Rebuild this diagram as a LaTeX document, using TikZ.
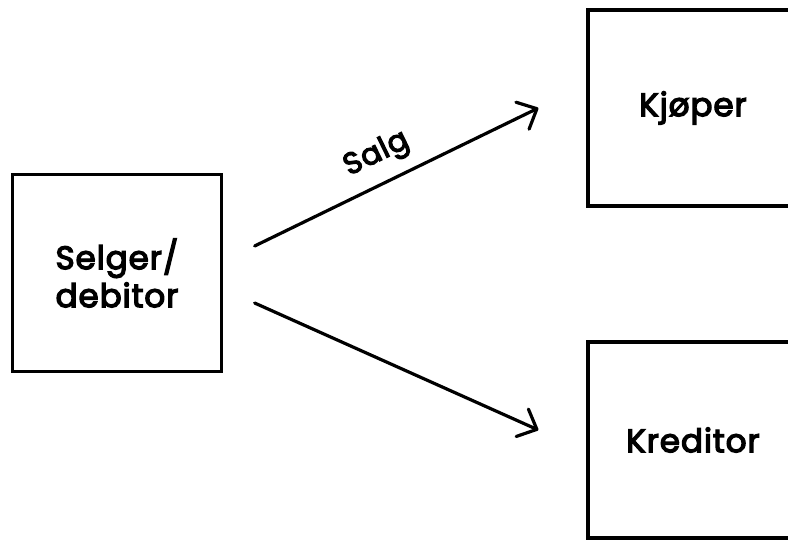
\documentclass[tikz,border=0pt]{standalone}
\usepackage{fontspec}
\setmainfont{Poppins}[FakeBold=4,LetterSpace=3]
\usetikzlibrary{arrows.meta}
\begin{document}
\begin{tikzpicture}[x=1pt,y=-1pt,
  box/.style={draw=black,line width=3.3pt,rectangle,inner sep=0pt,
    font=\fontsize{32.5}{38}\selectfont,align=center},
  arr/.style={line width=3.2pt,line cap=round,
    -{Straight Barb[length=16pt,width=30pt,line width=3.2pt,round]}},
  lbl/.style={font=\fontsize{30}{30}\selectfont,inner sep=0pt}]
  \useasboundingbox (0,0) rectangle (788,539);
  \clip (0,0) rectangle (788,539);
  % the seller on the left, buyer and creditor on the right
  \node[box,minimum width=209pt,minimum height=197pt] (sel) at (117,273) {Selger/\\debitor};
  \node[box,minimum width=210pt,minimum height=196pt] (kjo) at (693,108) {Kjøper};
  \node[box,minimum width=210pt,minimum height=196pt] (kred) at (693,440) {Kreditor};
  % arrow ends, kept clear of the boxes
  \coordinate (s1) at ([xshift=31.5pt,yshift=27pt]sel.east);
  \coordinate (e1) at ([xshift=-48pt]kjo.west);
  \coordinate (s2) at ([xshift=31.5pt,yshift=-30pt]sel.east);
  \coordinate (e2) at ([xshift=-48pt,yshift=10pt]kred.west);
  \draw[arr] (s1) -- node[lbl,pos=0.475,above=12pt,sloped] (salg) {Salg} (e1);
  \draw[arr] (s2) -- (e2);
\end{tikzpicture}
\end{document}
